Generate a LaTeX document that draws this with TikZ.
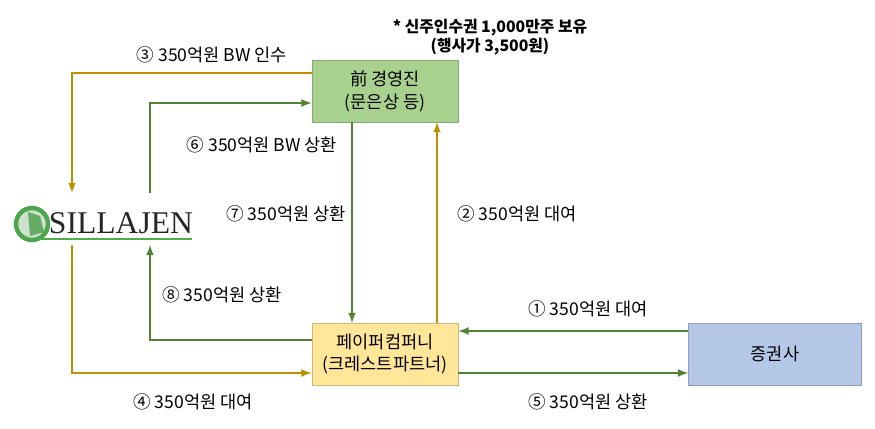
\documentclass[tikz,border=0pt]{standalone}
\usepackage{fontspec}
\setmainfont{Noto Sans CJK KR}
\usetikzlibrary{positioning}
\definecolor{boxgreen}{HTML}{A9D18E}
\definecolor{boxyellow}{HTML}{FFE699}
\definecolor{boxblue}{HTML}{B4C7E7}
\definecolor{linegold}{HTML}{BF9000}
\definecolor{linegreen}{HTML}{548235}
\begin{document}
\begin{tikzpicture}[
    x=0.02cm, y=-0.02cm,
    >=latex,
    party/.style={
      rectangle,
      draw=#1!80!black,
      fill=#1,
      minimum width=2.92cm,
      minimum height=1.24cm,
      align=center,
      font=\fontsize{10}{13}\selectfont
    },
    goldline/.style={->, draw=linegold, line width=1pt},
    greenline/.style={->, draw=linegreen, line width=1pt},
    flowlabel/.style={font=\fontsize{10}{12}\selectfont}
  ]
  \useasboundingbox (0,0) rectangle (875,429);

  %%%%%%%%%%%%%%%% ACTUAL NODES %%%%%%%%%%%%%%%%
  \node[party=boxgreen] (exec) at (385,91) {前 경영진\\(문은상 등)};
  \node[party=boxyellow] (paper) at (385,354) {페이퍼컴퍼니\\(크레스트파트너)};
  \node[party=boxblue, minimum width=3.46cm] (broker) at (775,354) {증권사};

  % logo
  \draw[draw=green!50!black!70, fill=green!40!black!20, line width=2.5pt] (32,224) circle (16);
  \fill[green!45!black!60] (28,212) -- (40,216) -- (44,232) -- (30,236) -- cycle;
  \node[font=\fontspec{Liberation Serif}\fontsize{18}{18}\selectfont, text=black!85, inner sep=0pt] (logo) at (121,223) {SILLAJEN};
  \draw[draw=green!55!black!70, line width=1.5pt] (40,239) -- (192,239);

  \node[font=\bfseries\fontsize{9}{11}\selectfont, align=center] (note) at (490,37) {* 신주인수권 1,000만주 보유\\(행사가 3,500원)};

  %%%%%%%%%%%%%%%% HELPING NODES %%%%%%%%%%%%%%%%
  \coordinate (exec-logo) at (72,73);
  \coordinate (logo-exec) at (150,103);
  \coordinate (paper-logo) at (150,340);
  \coordinate (logo-paper) at (72,373);

  %%%%%%%%%%%%%%%% PATHS %%%%%%%%%%%%%%%%
  \path[goldline] (exec.west |- exec-logo) -- (exec-logo) -- (72,193);
  \node[flowlabel] (l3) at (212,55) {③ 350억원 BW 인수};

  \path[greenline] (150,193) -- (logo-exec) -- (exec.west |- logo-exec);
  \node[flowlabel] (l6) at (262,145) {⑥ 350억원 BW 상환};

  \path[greenline] (352,122) -- (352,323);
  \node[flowlabel] (l7) at (286,214) {⑦ 350억원 상환};

  \path[goldline] (437,323) -- (437,122);
  \node[flowlabel] (l2) at (517,214) {② 350억원 대여};

  \path[greenline] (paper.west |- paper-logo) -- (paper-logo) -- (150,245);
  \node[flowlabel] (l8) at (222,295) {⑧ 350억원 상환};

  \path[goldline] (72,245) -- (logo-paper) -- (paper.west |- logo-paper);
  \node[flowlabel] (l4) at (193,402) {④ 350억원 대여};

  \path[greenline] (broker.west |- 0,331) -- (paper.east |- 0,331);
  \node[flowlabel] (l1) at (588,309) {① 350억원 대여};

  \path[greenline] (paper.east |- 0,373) -- (broker.west |- 0,373);
  \node[flowlabel] (l5) at (588,402) {⑤ 350억원 상환};
\end{tikzpicture}
\end{document}
